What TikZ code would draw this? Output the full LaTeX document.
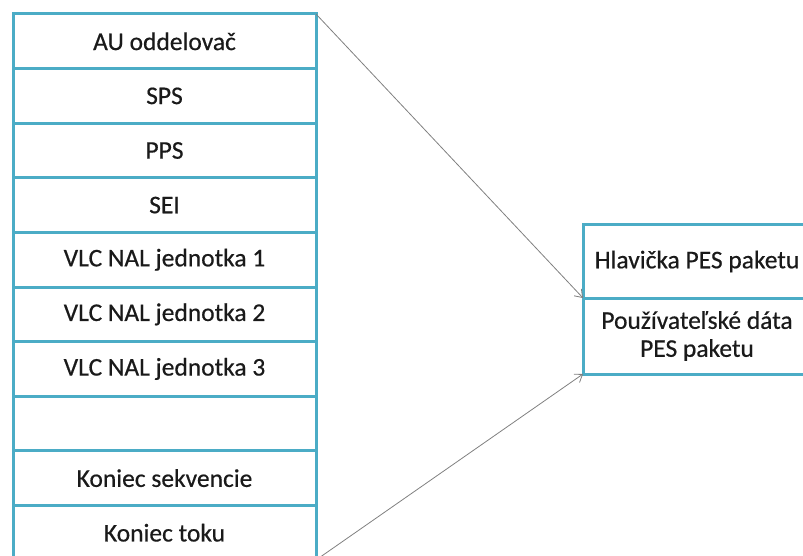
\documentclass[tikz,border=0pt]{standalone}
\usepackage{fontspec}
\setmainfont{Carlito}
\newfontfamily\cellfont{Carlito}[FakeBold=0.5]
\usepackage{xcolor}
\definecolor{FrameBlue}{HTML}{4BACC6}
\definecolor{PointerGray}{HTML}{808080}
\definecolor{LabelInk}{HTML}{1A1A1A}
\usepackage{tikz}
\usetikzlibrary{arrows.meta,positioning}
\tikzset{
  aurow/.style={
    draw=FrameBlue,
    line width=3pt,
    minimum width=303pt,
    minimum height=54.6pt,
    inner sep=0pt,
    outer sep=0pt,
    text=LabelInk,
    font=\cellfont\fontsize{25.5}{28}\selectfont
  },
  pesbox/.style={
    draw=FrameBlue,
    line width=3pt,
    minimum width=228pt,
    inner sep=0pt,
    outer sep=0pt,
    align=center,
    text=LabelInk,
    font=\cellfont\fontsize{25.5}{28}\selectfont
  },
  pesline/.style={
    draw=PointerGray,
    -{Straight Barb[length=7pt,width=10pt]},
    line width=0.8pt
  }
}
\begin{document}
\begin{tikzpicture}[x=1pt,y=-1pt]
  \useasboundingbox (0,0) rectangle (803,556);
  \foreach \label [count=\i] in {AU oddelovač,SPS,PPS,SEI,VLC NAL jednotka 1,VLC NAL jednotka 2,VLC NAL jednotka 3,{},Koniec sekvencie,Koniec toku}
    {\node[aurow] (row\i) at (164.5,{41.3+54.6*(\i-1)}) {\label};}
  \node[pesbox, minimum height=73pt] (header) at (697,261.5) {Hlavička PES paketu};
  \node[pesbox, minimum height=76pt] (payload) at (697,336) {Používateľské dáta\\PES paketu};
  \draw[pesline] (row1.north east) -- (header.south west);
  \draw[pesline] (row10.south east) -- (payload.south west);
\end{tikzpicture}
\end{document}
